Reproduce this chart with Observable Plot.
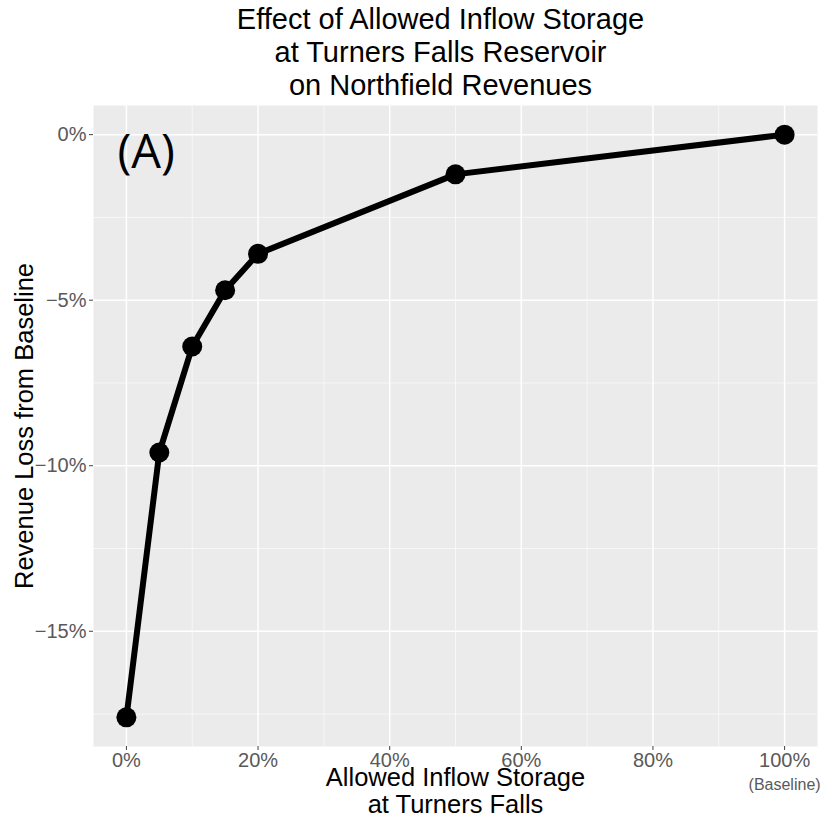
<!DOCTYPE html>
<html><head><meta charset="utf-8">
<script src="https://cdn.jsdelivr.net/npm/d3@7"></script>
<script src="https://cdn.jsdelivr.net/npm/@observablehq/plot@0.6"></script>
<style>
body{margin:0;background:#fff;}
#title{font-family:"Liberation Sans",Arial,sans-serif;font-size:29px;line-height:33px;text-align:center;width:821px;padding-left:60px;box-sizing:border-box;padding-top:3px;height:102px;color:#000;}
#chart svg{display:block;}
</style></head><body>
<div id="title">Effect of Allowed Inflow Storage<br>at Turners Falls Reservoir<br>on Northfield Revenues</div>
<div id="chart"></div>
<script>
// Allowed inflow storage at Turners Falls (%) and the resulting revenue change (%)
const storage = [0, 5, 10, 15, 20, 50, 100];
const revenueLoss = [-17.6, -9.6, -6.4, -4.7, -3.6, -1.2, 0];

// Axis ticks and grid lines
const xTicks = [0, 20, 40, 60, 80, 100];
const xMinor = [10, 30, 50, 70, 90];
const yTicks = [0, -5, -10, -15];
const yMinor = [-2.5, -7.5, -12.5, -17.5];

const panelLabel = "(A)";
const baselineNote = "(Baseline)";
const xTitle = "Allowed Inflow Storage\nat Turners Falls";
const yTitle = "Revenue Loss from Baseline";

const data = storage.map((s, i) => ({storage: s, loss: revenueLoss[i]}));
const pct = d => `${d}%`.replace("-", "\u2212");

const chart = Plot.plot({
  width: 821,
  height: 716,
  marginLeft: 93,
  marginRight: 4,
  marginTop: 3,
  marginBottom: 72,
  style: {fontFamily: "'Liberation Sans', Arial, sans-serif", background: "transparent"},
  x: {domain: [-5, 105]},
  y: {domain: [-18.48, 0.88]},
  marks: [
    Plot.frame({fill: "#ebebeb", stroke: null}),
    Plot.gridX(xMinor, {stroke: "white", strokeOpacity: 0.75, strokeWidth: 0.8}),
    Plot.gridY(yMinor, {stroke: "white", strokeOpacity: 0.75, strokeWidth: 0.8}),
    Plot.gridX(xTicks, {stroke: "white", strokeOpacity: 1, strokeWidth: 1.5}),
    Plot.gridY(yTicks, {stroke: "white", strokeOpacity: 1, strokeWidth: 1.5}),
    Plot.axisX(xTicks, {tickFormat: pct, tickSize: 4, tickPadding: 2, fontSize: 20, fill: "#595959", stroke: "#444", label: null}),
    Plot.axisY(yTicks, {tickFormat: pct, tickSize: 4, tickPadding: 3, fontSize: 20, fill: "#595959", stroke: "#444", label: null}),
    Plot.text([baselineNote], {x: [100], text: d => d, frameAnchor: "bottom", lineAnchor: "top", dy: 32, fontSize: 16, fill: "#595959"}),
    Plot.text([xTitle], {text: d => d, frameAnchor: "bottom", textAnchor: "middle", lineAnchor: "top", dy: 21, fontSize: 25.5, lineHeight: 1.04, fill: "black"}),
    Plot.text([yTitle], {text: d => d, frameAnchor: "left", textAnchor: "middle", lineAnchor: "middle", rotate: -90, dx: -69, fontSize: 25.5, fill: "black"}),
    Plot.line(data, {x: "storage", y: "loss", stroke: "black", strokeWidth: 6, strokeLinejoin: "round", strokeLinecap: "round"}),
    Plot.dot(data, {x: "storage", y: "loss", r: 10, fill: "black", stroke: null}),
    Plot.text([panelLabel], {text: d => d, frameAnchor: "top-left", textAnchor: "start", lineAnchor: "middle", dx: 24, dy: 47, fontSize: 47, fontFamily: "'Open Sans', sans-serif", fill: "black"})
  ]
});
document.getElementById("chart").appendChild(chart);
</script>
</body></html>
